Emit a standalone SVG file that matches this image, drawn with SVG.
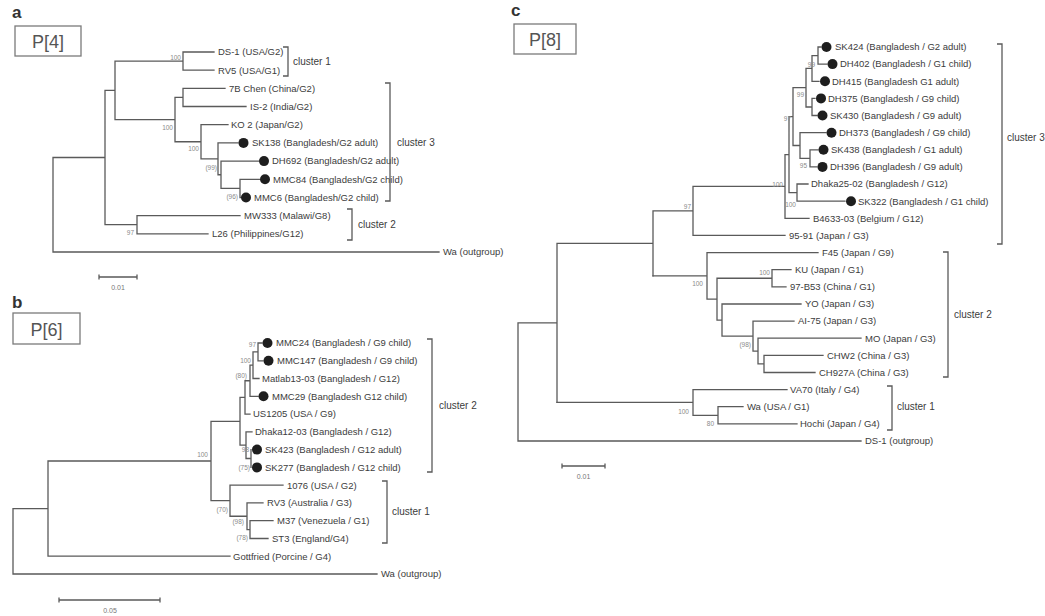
<svg xmlns="http://www.w3.org/2000/svg" width="1045" height="616" viewBox="0 0 1045 616">
<style>
  .br{fill:none;stroke:#5a5a5a;stroke-width:1.3;stroke-linecap:square}
  .bk{fill:none;stroke:#5a5a5a;stroke-width:1.3}
  .lf{font-family:"Liberation Sans",Arial,sans-serif;font-size:9.5px;fill:#3c3c3c}
  .bs{font-family:"Liberation Sans",Arial,sans-serif;font-size:6.5px;fill:#8a8a8a;text-anchor:end}
  .cl{font-family:"Liberation Sans",Arial,sans-serif;font-size:10px;fill:#3c3c3c}
  .dot{fill:#1e1e1e}
  .pan{font-family:"Liberation Sans",Arial,sans-serif;font-size:17px;font-weight:bold;fill:#333}
  .box{fill:#fff;stroke:#7a7a7a;stroke-width:1.3}
  .bt{font-family:"Liberation Sans",Arial,sans-serif;font-size:18px;fill:#555;text-anchor:middle}
  .sc{font-family:"Liberation Sans",Arial,sans-serif;font-size:7px;fill:#777;text-anchor:middle}
</style>
<rect width="1045" height="616" fill="#fff"/>

<!-- ===== Panel a : P[4] ===== -->
<g id="a-header">
  <text class="pan" x="12" y="18">a</text>
  <rect class="box" x="15" y="26" width="66" height="30"/>
  <text class="bt" x="48" y="48">P[4]</text>
</g>
<g id="a-branches">
  <path class="br" d="M105 157.5 H53 V252 H439 M105 90.35 V224.7 M105 90.35 H115 M115 61.1 V119.6 M115 61.1 H183 M183 52 V70.2 M183 52 H214 M183 70.2 H214 M115 119.6 H175 M175 97.45 V141.75 M175 97.45 H183 M183 88.4 V106.5 M183 88.4 H225 M183 106.5 H246 M175 141.75 H201 M201 124.7 V158.8 M201 124.7 H228 M201 158.8 H218 M218 142.9 V174.75 M218 142.9 H238 M218 174.75 H221 M221 161.1 V188.4 M221 161.1 H259 M221 188.4 H240 M240 179.3 V197.5 M240 179.3 H260 M240 197.5 H241 M105 224.7 H137 M137 215.6 V233.8 M137 215.6 H240 M137 233.8 H208"/>
</g>
<g id="a-support">
  <text class="bs" x="181" y="60">100</text>
  <text class="bs" x="173" y="130">100</text>
  <text class="bs" x="199" y="151">100</text>
  <text class="bs" x="217" y="170">(99)</text>
  <text class="bs" x="238" y="199">(96)</text>
  <text class="bs" x="134" y="235">97</text>
</g>
<g id="a-ds1"><text class="lf" x="218" y="55.3">DS-1 (USA/G2)</text></g>
<g id="a-rv5"><text class="lf" x="218" y="73.5">RV5 (USA/G1)</text></g>
<g id="a-7bchen"><text class="lf" x="229" y="91.7">7B Chen (China/G2)</text></g>
<g id="a-is2"><text class="lf" x="250" y="109.8">IS-2 (India/G2)</text></g>
<g id="a-ko2"><text class="lf" x="231" y="128">KO 2 (Japan/G2)</text></g>
<g id="a-sk138"><circle class="dot" cx="243.5" cy="142.9" r="5"/><text class="lf" x="252" y="146.2">SK138 (Bangladesh/G2 adult)</text></g>
<g id="a-dh692"><circle class="dot" cx="264" cy="161.1" r="5"/><text class="lf" x="272" y="164.4">DH692 (Bangladesh/G2 adult)</text></g>
<g id="a-mmc84"><circle class="dot" cx="265" cy="179.3" r="5"/><text class="lf" x="273" y="182.6">MMC84 (Bangladesh/G2 child)</text></g>
<g id="a-mmc6"><circle class="dot" cx="246" cy="197.5" r="5"/><text class="lf" x="254" y="200.8">MMC6 (Bangladesh/G2 child)</text></g>
<g id="a-mw333"><text class="lf" x="244" y="218.9">MW333 (Malawi/G8)</text></g>
<g id="a-l26"><text class="lf" x="212" y="237.1">L26 (Philippines/G12)</text></g>
<g id="a-wa"><text class="lf" x="443" y="255.3">Wa (outgroup)</text></g>
<g id="a-clusters">
  <path class="bk" d="M283 47 H288 V76 H283 M385 83 H390 V201 H385 M347 209 H352 V240 H347"/>
  <text class="cl" x="293" y="65">cluster 1</text>
  <text class="cl" x="397" y="146">cluster 3</text>
  <text class="cl" x="358" y="228">cluster 2</text>
</g>
<g id="a-scale">
  <path class="bk" d="M99 277 H137 M99 274.5 V279.5 M137 274.5 V279.5"/>
  <text class="sc" x="118" y="290">0.01</text>
</g>

<!-- ===== Panel b : P[6] ===== -->
<g id="b-header">
  <text class="pan" x="12" y="308">b</text>
  <rect class="box" x="13" y="313" width="67" height="31"/>
  <text class="bt" x="46.5" y="335.5">P[6]</text>
</g>
<g id="b-branches">
  <path class="br" d="M48 508.6 H13 V574 H377 M48 461 V556.2 M48 556.2 H230 M48 461 H211 M211 421.3 V500.7 M211 421.3 H240 M240 397.4 V445.2 M240 397.4 H245 M245 380.75 V414.1 M245 414.1 H250 M245 380.75 H250 M250 365.2 V396.3 M250 396.3 H258 M250 365.2 H253 M253 351.9 V378.5 M253 378.5 H259 M253 351.9 H258 M258 343 V360.8 M258 343 H262 M258 360.8 H263 M240 445.2 H246 M246 431.9 V458.5 M246 431.9 H252 M246 458.5 H251 M251 449.6 V467.4 M211 500.7 H230 M230 485.2 V516.25 M230 485.2 H283 M230 516.25 H247 M247 502.9 V529.6 M247 502.9 H263 M247 529.6 H250 M250 520.7 V538.5 M250 520.7 H273 M250 538.5 H268"/>
</g>
<g id="b-support">
  <text class="bs" x="256" y="347">97</text>
  <text class="bs" x="251" y="363">100</text>
  <text class="bs" x="247" y="378">(80)</text>
  <text class="bs" x="249" y="452">98</text>
  <text class="bs" x="250" y="470">(75)</text>
  <text class="bs" x="208" y="457">100</text>
  <text class="bs" x="228" y="512">(70)</text>
  <text class="bs" x="244" y="524">(98)</text>
  <text class="bs" x="248" y="540">(78)</text>
</g>
<g id="b-mmc24"><circle class="dot" cx="267.5" cy="343" r="5"/><text class="lf" x="276" y="346.3">MMC24 (Bangladesh / G9 child)</text></g>
<g id="b-mmc147"><circle class="dot" cx="268.5" cy="360.8" r="5"/><text class="lf" x="277" y="364.1">MMC147 (Bangladesh / G9 child)</text></g>
<g id="b-matlab"><text class="lf" x="262" y="381.8">Matlab13-03 (Bangladesh / G12)</text></g>
<g id="b-mmc29"><circle class="dot" cx="263.5" cy="396.3" r="5"/><text class="lf" x="272" y="399.6">MMC29 (Bangladesh G12 child)</text></g>
<g id="b-us1205"><text class="lf" x="253" y="417.4">US1205 (USA / G9)</text></g>
<g id="b-dhaka12"><text class="lf" x="255" y="435.2">Dhaka12-03 (Bangladesh / G12)</text></g>
<g id="b-sk423"><circle class="dot" cx="257" cy="449.6" r="5"/><text class="lf" x="265" y="452.9">SK423 (Bangladesh / G12 adult)</text></g>
<g id="b-sk277"><circle class="dot" cx="257" cy="467.4" r="5"/><text class="lf" x="265" y="470.7">SK277 (Bangladesh / G12 child)</text></g>
<g id="b-1076"><text class="lf" x="287" y="488.5">1076 (USA / G2)</text></g>
<g id="b-rv3"><text class="lf" x="267" y="506.2">RV3 (Australia / G3)</text></g>
<g id="b-m37"><text class="lf" x="277" y="524">M37 (Venezuela / G1)</text></g>
<g id="b-st3"><text class="lf" x="272" y="541.8">ST3 (England/G4)</text></g>
<g id="b-gottfried"><text class="lf" x="233" y="559.5">Gottfried (Porcine / G4)</text></g>
<g id="b-wa"><text class="lf" x="381" y="577.3">Wa (outgroup)</text></g>
<g id="b-clusters">
  <path class="bk" d="M427 339 H432 V472 H427 M382 481 H387 V543 H382"/>
  <text class="cl" x="439" y="409">cluster 2</text>
  <text class="cl" x="392" y="515">cluster 1</text>
</g>
<g id="b-scale">
  <path class="bk" d="M59 600 H160 M59 597.5 V602.5 M160 597.5 V602.5"/>
  <text class="sc" x="110" y="613">0.05</text>
</g>

<!-- ===== Panel c : P[8] ===== -->
<g id="c-header">
  <text class="pan" x="511" y="16">c</text>
  <rect class="box" x="514" y="24" width="62" height="30"/>
  <text class="bt" x="545" y="46">P[8]</text>
</g>
<g id="c-branches">
  <path class="br" d="M557 322.9 H518 V441 H861 M557 243.4 V402.45 M557 243.4 H653 M653 210.9 V275.9 M653 210.9 H693 M693 186.45 V235.4 M693 235.4 H785 M693 186.45 H785 M785 154.6 V218.3 M785 218.3 H809 M785 154.6 H789 M789 116.6 V192.6 M789 192.6 H797 M797 184 V201.2 M797 184 H808 M797 201.2 H845 M789 116.6 H793 M793 87.7 V145.5 M793 87.7 H806 M806 68.4 V107 M806 68.4 H812 M812 55.55 V81.3 M812 55.55 H818 M818 47 V64.1 M818 47 H821 M818 64.1 H827 M812 81.3 H819 M806 107 H812 M812 98.4 V115.5 M812 98.4 H815 M812 115.5 H817 M793 145.5 H800 M800 132.7 V158.35 M800 132.7 H826 M800 158.35 H810 M810 149.8 V166.9 M810 149.8 H818 M810 166.9 H817"/>
  <path class="br" d="M653 275.9 H707 M707 252.6 V299.15 M707 252.6 H818 M707 299.15 H717 M717 278.25 V320.05 M717 278.25 H772 M772 269.7 V286.8 M772 269.7 H791 M772 286.8 H786 M717 320.05 H722 M722 304 V336.1 M722 304 H801 M722 336.1 H753 M753 321.1 V351.05 M753 321.1 H794 M753 351.05 H758 M758 338.2 V363.9 M758 338.2 H861 M758 363.9 H764 M764 355.3 V372.5 M764 355.3 H823 M764 372.5 H815"/>
  <path class="br" d="M557 402.45 H693 M693 389.6 V415.3 M693 389.6 H787 M693 415.3 H718 M718 406.7 V423.9 M718 406.7 H743 M718 423.9 H797"/>
</g>
<g id="c-support">
  <text class="bs" x="815" y="67">99</text>
  <text class="bs" x="804" y="97">99</text>
  <text class="bs" x="791" y="121">97</text>
  <text class="bs" x="807" y="168">95</text>
  <text class="bs" x="783" y="187">100</text>
  <text class="bs" x="796" y="207">100</text>
  <text class="bs" x="691" y="209">97</text>
  <text class="bs" x="703" y="286">100</text>
  <text class="bs" x="770" y="275">100</text>
  <text class="bs" x="751" y="347">(98)</text>
  <text class="bs" x="689" y="414">100</text>
  <text class="bs" x="714" y="426">80</text>
</g>
<g id="c-sk424"><circle class="dot" cx="826.5" cy="47" r="5"/><text class="lf" x="835" y="50.3">SK424 (Bangladesh / G2 adult)</text></g>
<g id="c-dh402"><circle class="dot" cx="832.5" cy="64.1" r="5"/><text class="lf" x="840" y="67.4">DH402 (Bangladesh / G1 child)</text></g>
<g id="c-dh415"><circle class="dot" cx="825" cy="81.3" r="5"/><text class="lf" x="832" y="84.6">DH415 (Bangladesh G1 adult)</text></g>
<g id="c-dh375"><circle class="dot" cx="821" cy="98.4" r="5"/><text class="lf" x="828" y="101.7">DH375 (Bangladesh / G9 child)</text></g>
<g id="c-sk430"><circle class="dot" cx="822.5" cy="115.5" r="5"/><text class="lf" x="830" y="118.8">SK430 (Bangladesh / G9 adult)</text></g>
<g id="c-dh373"><circle class="dot" cx="831.5" cy="132.7" r="5"/><text class="lf" x="839" y="136">DH373 (Bangladesh / G9 child)</text></g>
<g id="c-sk438"><circle class="dot" cx="823.5" cy="149.8" r="5"/><text class="lf" x="831" y="153.1">SK438 (Bangladesh / G1 adult)</text></g>
<g id="c-dh396"><circle class="dot" cx="822.5" cy="166.9" r="5"/><text class="lf" x="830" y="170.2">DH396 (Bangladesh / G9 adult)</text></g>
<g id="c-dhaka25"><text class="lf" x="811" y="187.3">Dhaka25-02 (Bangladesh / G12)</text></g>
<g id="c-sk322"><circle class="dot" cx="851" cy="201.2" r="5"/><text class="lf" x="858" y="204.5">SK322 (Bangladesh / G1 child)</text></g>
<g id="c-b4633"><text class="lf" x="813" y="221.6">B4633-03 (Belgium / G12)</text></g>
<g id="c-9591"><text class="lf" x="789" y="238.7">95-91 (Japan / G3)</text></g>
<g id="c-f45"><text class="lf" x="822" y="255.9">F45 (Japan / G9)</text></g>
<g id="c-ku"><text class="lf" x="795" y="273">KU (Japan / G1)</text></g>
<g id="c-97b53"><text class="lf" x="790" y="290.1">97-B53 (China / G1)</text></g>
<g id="c-yo"><text class="lf" x="805" y="307.3">YO (Japan / G3)</text></g>
<g id="c-ai75"><text class="lf" x="798" y="324.4">AI-75 (Japan / G3)</text></g>
<g id="c-mo"><text class="lf" x="865" y="341.5">MO (Japan / G3)</text></g>
<g id="c-chw2"><text class="lf" x="827" y="358.6">CHW2 (China / G3)</text></g>
<g id="c-ch927a"><text class="lf" x="819" y="375.8">CH927A (China / G3)</text></g>
<g id="c-va70"><text class="lf" x="790" y="392.9">VA70 (Italy / G4)</text></g>
<g id="c-wa"><text class="lf" x="747" y="410">Wa (USA / G1)</text></g>
<g id="c-hochi"><text class="lf" x="800" y="427.2">Hochi (Japan / G4)</text></g>
<g id="c-ds1"><text class="lf" x="865" y="444.3">DS-1 (outgroup)</text></g>
<g id="c-clusters">
  <path class="bk" d="M997 44 H1002 V244 H997 M943 252 H948 V377 H943 M887 386 H892 V430 H887"/>
  <text class="cl" x="1007" y="141">cluster 3</text>
  <text class="cl" x="954" y="318">cluster 2</text>
  <text class="cl" x="897" y="410">cluster 1</text>
</g>
<g id="c-scale">
  <path class="bk" d="M562 466 H605 M562 463.5 V468.5 M605 463.5 V468.5"/>
  <text class="sc" x="583.5" y="479">0.01</text>
</g>
</svg>
